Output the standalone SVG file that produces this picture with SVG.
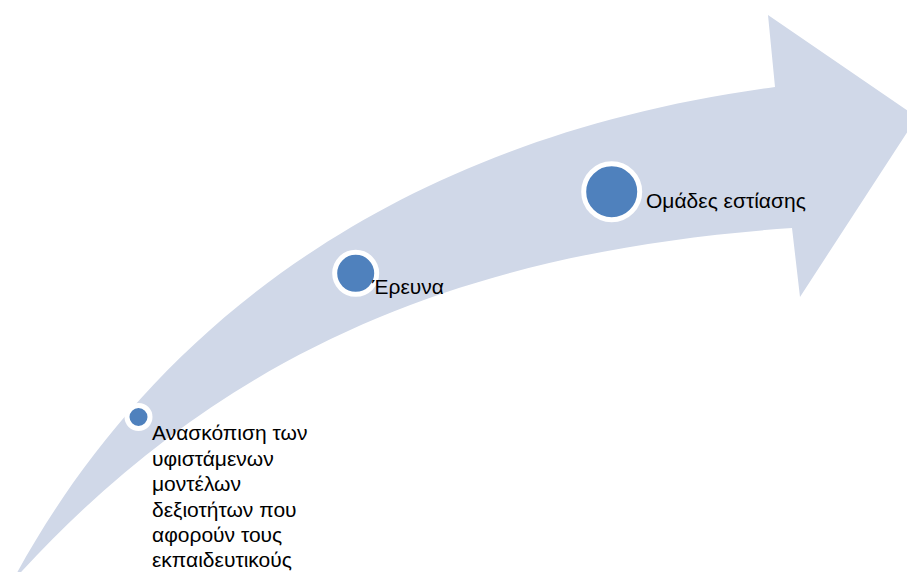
<svg xmlns="http://www.w3.org/2000/svg" width="907" height="572" viewBox="0 0 907 572">
<style>
.arrow{fill:#D0D8E8;stroke:none}
.dot{fill:#4F81BD;stroke:#FFFFFF;stroke-width:5}
.lbl{font-family:"Liberation Sans","Noto Sans",Arial,sans-serif;font-size:21px;fill:#000000}
</style>
<rect width="907" height="572" fill="#FFFFFF"/>
<g id="arrow">
<path class="arrow" d="M 12 582 C 120 380, 340 145, 775 87 L 768 15 L 917 117 L 800 297 L 792 228 C 480 250, 230 340, 12 582 Z"/>
</g>
<g id="connectors"></g>
<g id="node1">
<circle class="dot" cx="138.5" cy="417" r="11.5"/>
<text class="lbl" x="152" y="440">Ανασκόπιση των</text>
<text class="lbl" x="152" y="465.5">υφιστάμενων</text>
<text class="lbl" x="152" y="491">μοντέλων</text>
<text class="lbl" x="152" y="516.5">δεξιοτήτων που</text>
<text class="lbl" x="152" y="542">αφορούν τους</text>
<text class="lbl" x="152" y="567">εκπαιδευτικούς</text>
</g>
<g id="node2">
<circle class="dot" cx="355.7" cy="273.3" r="21"/>
<text class="lbl" x="372" y="294">Έρευνα</text>
</g>
<g id="node3">
<circle class="dot" cx="611.7" cy="191.7" r="28"/>
<text class="lbl" x="646" y="208">Ομάδες εστίασης</text>
</g>
</svg>
